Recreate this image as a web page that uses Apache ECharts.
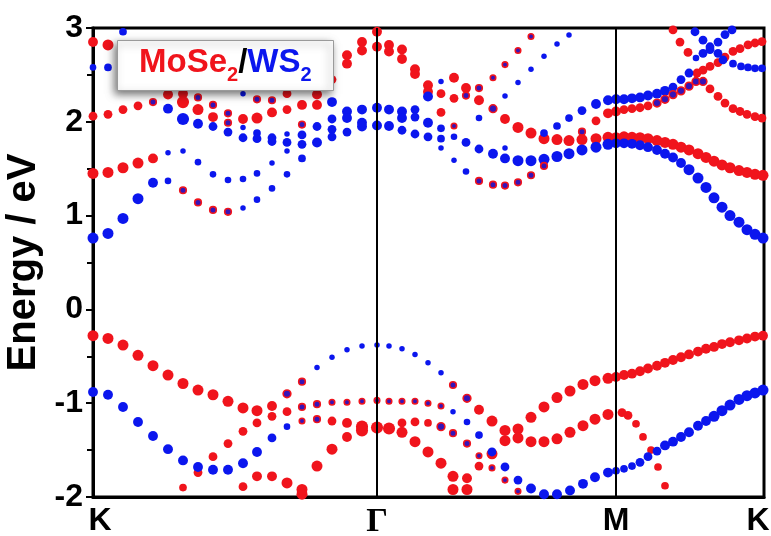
<!DOCTYPE html>
<html>
<head>
<meta charset="utf-8">
<script src="https://cdn.jsdelivr.net/npm/echarts@6.0.0/dist/echarts.min.js"></script>
<style>html,body{margin:0;padding:0;background:#fff}#c{width:771px;height:536px}</style>
</head>
<body>
<div id="c"></div>
<script>
// k-path positions (path length units) and their labels
const tickPositions = [0, 284, 523, 671];
const tickLabels = ['K', 'Γ', 'M', 'K'];
const yTicks = [-2, -1, 0, 1, 2, 3];

// Points: [k, energy (eV), weight (marker size)]
const redValence = [
[0,-0.28,10],[15,-0.31,10],[30,-0.38,10],[45,-0.49,10],[60,-0.60,10],[75,-0.70,10],[90,-0.79,10],[105,-0.86,10],[120,-0.91,10],[135,-0.98,10],[150,-1.05,10],[164,-1.08,10],[179,-1.03,9],
[90,-1.90,7],[105,-1.74,8],[120,-1.57,8],[135,-1.43,8],[150,-1.30,8],[164,-1.21,8],[179,-1.14,8],[194,-1.09,8],
[150,-1.89,8],[164,-1.78,9],[179,-1.78,9],[194,-1.85,10],[209,-1.92,10],[209,-1.97,10],
[224,-1.67,10],[239,-1.49,10],[254,-1.36,9],
[239,-1.19,8],[254,-1.21,9],[269,-1.25,11],[269,-1.29,11],[284,-1.26,11],
[296,-1.27,11],[309,-1.31,10],[322,-1.41,10],[335,-1.52,10],[348,-1.64,10],[360,-1.78,10],[374,-1.92,10],
[360,-1.92,10],[374,-1.80,9],[386,-1.67,8],[399,-1.54,10],
[309,-1.21,8],[322,-1.20,8],[335,-1.21,7],
[386,-1.07,9],[399,-1.19,10],[412,-1.29,10],[425,-1.275,10],[438,-1.15,10],[451,-1.04,10],[464,-0.94,10],[477,-0.87,10],[490,-0.80,10],[502,-0.76,10],[515,-0.735,10],
[412,-1.40,10],[425,-1.37,10],[438,-1.41,10],[451,-1.41,10],[464,-1.38,10],[477,-1.31,10],[490,-1.24,10],[502,-1.17,10],[515,-1.12,10],
[523,-0.72,9],[531,-0.70,9],[539,-0.685,9],[547,-0.66,9],[555,-0.63,9],[564,-0.60,9],[572,-0.57,9],[580,-0.54,9],[588,-0.51,9],[596,-0.48,9],[605,-0.45,9],[613,-0.42,9],[621,-0.40,9],[629,-0.37,9],[637,-0.35,9],[646,-0.33,9],[654,-0.31,9],[662,-0.29,9],[670,-0.28,9],
[529,-1.10,8],[535,-1.13,8],[543,-1.22,7],[550,-1.36,7],[558,-1.50,7],[565,-1.68,7],[572,-1.88,7]
];
const blueValence = [
[0,-0.88,9],[15,-0.91,9],[30,-1.04,9],[45,-1.20,9],[60,-1.35,9],[75,-1.49,9],[90,-1.61,9],[105,-1.68,9],[120,-1.71,9],[135,-1.71,9],[150,-1.64,9],[164,-1.52,9],[179,-1.37,8],[194,-1.25,6],
[224,-0.62,5],[239,-0.51,5],[254,-0.43,5],[269,-0.39,5],[284,-0.38,5],[296,-0.39,5],[309,-0.42,5],[322,-0.48,5],[335,-0.57,5],[348,-0.675,5],
[360,-1.09,5],[374,-1.20,6],[386,-1.34,7],[399,-1.52,8],[412,-1.68,8],[425,-1.82,8],[438,-1.91,9],[451,-1.97,9],[464,-1.97,9],[477,-1.93,9],[490,-1.86,9],[502,-1.79,9],[515,-1.74,9],
[523,-1.72,7],[531,-1.70,7],[539,-1.67,7],[547,-1.63,8],[555,-1.57,8],[564,-1.51,8],[572,-1.45,9],[580,-1.41,9],[588,-1.36,9],[596,-1.31,9],[605,-1.24,9],[613,-1.19,9],[621,-1.14,10],[629,-1.08,10],[637,-1.02,10],[646,-0.96,10],[654,-0.92,10],[662,-0.89,10],[670,-0.86,10]
];
const mixValence = [
[194,-0.90,7],[209,-0.77,6],
[209,-1.04,6],[224,-1.01,6],[239,-0.99,5],[254,-0.99,5],[269,-0.98,5],[284,-0.97,5],[296,-0.98,5],[309,-0.98,5],[322,-0.98,5],[335,-1.00,5],[348,-1.03,5],
[209,-1.19,5],[224,-1.17,6],
[348,-1.25,7],[360,-1.32,6],[374,-1.43,6],[386,-1.56,5],[399,-1.69,5],[412,-1.82,5],[425,-1.94,5],
[360,-0.806,6],[374,-0.948,7]
];
const redConduction = [
[0,2.85,9],[15,2.82,10],
[0,2.06,8],[15,2.08,8],[30,2.13,8],[45,2.17,8],
[0,1.45,10],[15,1.46,10],[30,1.51,10],[45,1.56,10],[60,1.61,9],
[75,2.29,9],[90,2.30,9],[90,2.21,11],[105,2.13,10],[120,2.05,9],[150,2.03,9],[164,2.04,10],[179,2.10,9],[194,2.30,8],[194,2.13,8],[209,2.18,9],[224,2.29,9],[224,2.18,9],[239,2.45,8],[254,2.71,9],[254,2.62,9],[269,2.85,9],[269,2.76,9],[284,2.96,9],[284,2.80,9],
[296,2.82,9],[296,2.75,9],[309,2.77,9],[309,2.67,9],[322,2.56,9],[322,2.51,9],[335,2.39,9],[335,2.32,9],[348,2.30,8],[348,2.10,8],[361,2.47,9],[361,2.25,8],[373,2.36,9],[386,2.23,9],[412,2.03,9],[425,1.94,10],[438,1.88,10],[451,1.82,10],[464,1.81,10],[476,1.80,10],[489,1.81,10],[503,1.82,10],[515,1.835,10],
[503,2.01,8],[515,2.09,9],
[523,1.83,10],[531,1.84,10],[539,1.835,10],[547,1.83,10],[555,1.82,10],[564,1.80,10],[572,1.78,10],[580,1.76,10],[588,1.73,10],[596,1.70,10],[605,1.66,10],[613,1.62,10],[621,1.58,10],[629,1.54,10],[637,1.51,10],[646,1.48,10],[654,1.46,10],[662,1.44,10],[670,1.43,10],
[523,2.11,9],[531,2.13,8],[539,2.14,8],[547,2.15,8],[555,2.17,8],
[617,2.35,8],[625,2.27,8],[632,2.20,8],[640,2.14,8],[647,2.11,8],[654,2.08,8],[662,2.055,8],[669,2.04,8],
[604,2.52,8],[610,2.55,8],[617,2.59,8],[625,2.63,8],[632,2.69,8],[640,2.75,8],[647,2.78,8],[655,2.82,8],[662,2.84,8],[669,2.855,8],
[580,2.98,8],[587,2.85,8],[595,2.74,8]
];
const blueConduction = [
[0,2.58,6],[15,2.58,7],[30,2.96,7],
[0,0.76,10],[15,0.81,10],[30,0.97,10],[45,1.18,10],[60,1.35,9],[75,1.37,6],
[75,2.14,9],[90,2.03,11],[105,1.98,9],[120,1.95,8],[135,1.89,8],[150,1.94,5],[150,1.83,8],[164,1.88,7],[164,1.82,8],[179,1.83,8],[179,1.79,8],[194,1.87,5],[194,1.78,8],[209,1.86,8],[209,1.76,8],[224,1.95,8],[224,1.78,9],[239,2.21,9],[239,2.03,8],[239,1.92,8],[239,1.84,8],[254,2.11,9],[254,2.04,9],[254,1.89,8],[269,2.13,9],[269,1.99,9],[269,1.95,9],[284,2.15,9],[284,1.96,9],
[150,2.30,5],
[75,1.67,5],[90,1.69,5],[105,1.57,6],[120,1.44,6],[135,1.38,6],[150,1.39,6],[164,1.45,6],[179,1.56,5],[194,1.69,5],[209,1.61,7],
[150,1.08,5],[164,1.17,6],[179,1.29,6],[194,1.44,6],
[296,2.13,9],[296,1.955,9],[309,2.11,9],[309,2.04,9],[309,1.91,8],[322,2.13,8],[322,2.05,8],[322,1.87,8],[335,2.27,9],[335,1.99,9],[335,1.84,8],[348,2.43,5],[348,1.93,7],[348,1.82,7],[348,1.72,5],[361,1.84,6],[361,1.59,5],[373,1.78,8],[373,1.47,6],[386,2.04,6],[386,1.71,8],[400,1.66,9],[412,2.275,5],[412,1.72,5],[412,1.61,9],[425,2.42,5],[425,1.585,10],[438,2.56,5],[438,1.585,10],[451,2.70,5],[451,1.88,7],[451,1.60,10],[464,2.83,5],[464,1.955,7],[464,1.63,10],[476,2.925,5],[476,2.04,7],[476,1.66,10],[489,2.12,8],[489,1.70,10],[503,2.19,9],[503,1.73,10],[515,2.23,9],[515,1.76,10],
[523,1.77,9],[531,1.77,9],[539,1.765,9],[547,1.75,9],[555,1.73,9],[564,1.70,9],[572,1.66,9],[580,1.62,9],[588,1.56,9],[596,1.49,10],[605,1.40,10],[613,1.30,10],[621,1.19,10],[629,1.09,10],[637,1.00,10],[646,0.93,10],[654,0.85,10],[662,0.80,10],[670,0.76,10],
[523,2.24,9],[531,2.24,9],[539,2.25,9],[547,2.26,9],[555,2.28,9],[564,2.30,9],[572,2.33,9],[580,2.37,8],[588,2.45,8],[596,2.52,8],[603,2.68,6],[610,2.73,8],[617,2.77,8],[625,2.85,8],[632,2.93,8],[639,2.98,8],
[602,2.96,8],[610,2.87,8],[617,2.80,8],[625,2.73,8],[630,2.66,8],[640,2.62,7],[648,2.59,7],[655,2.58,7],[662,2.57,7],[669,2.57,7]
];
const mixConduction = [
[60,2.21,6],[105,2.26,6],[120,2.18,6],[135,2.09,6],[135,1.99,6],[164,2.24,6],[179,2.23,6],[209,1.97,6],
[90,1.27,6],[105,1.14,6],[120,1.06,6],[135,1.04,6],
[373,2.28,6],[386,2.36,6],[400,2.47,5],[412,2.61,5],[425,2.76,5],[438,2.91,5],[400,2.14,7],
[361,1.955,5],[386,1.37,6],[400,1.33,6],[412,1.32,6],[425,1.355,6],[438,1.43,6],[451,1.53,6],[489,1.895,6],
[564,2.20,7],[572,2.24,7],[580,2.29,7],[588,2.33,7],[596,2.38,7],[603,2.43,7],[610,2.43,7]
];

const RED = '#f0141c', BLUE = '#0b16ee';
const FONT = 'Liberation Sans, Arial, sans-serif';
const labelMap = {};
tickPositions.forEach((p, i) => labelMap[p] = tickLabels[i]);
const lblBase = {color: '#000', fontSize: 32, fontWeight: 'bold', fontFamily: FONT};

const chart = echarts.init(document.getElementById('c'), null, {renderer: 'canvas'});
const sizeFn = d => d[2] * 1.1;
chart.setOption({
  animation: false,
  backgroundColor: '#fff',
  title: {
    text: '{r|MoSe}{rs|2}{k|/}{b|WS}{bs|2}',
    left: 117, top: 35,
    padding: [6, 22, 6, 22],
    backgroundColor: '#fff',
    borderColor: '#9a9a9a', borderWidth: 1,
    shadowBlur: 8, shadowColor: 'rgba(0,0,0,0.55)', shadowOffsetX: -3, shadowOffsetY: 3,
    textStyle: {
      rich: {
        r: {color: RED, fontSize: 33, fontWeight: 'bold', fontFamily: FONT, lineHeight: 44},
        rs: {color: RED, fontSize: 20, fontWeight: 'bold', fontFamily: FONT, lineHeight: 20, verticalAlign: 'bottom'},
        k: {color: '#000', fontSize: 33, fontWeight: 'bold', fontFamily: FONT, lineHeight: 44},
        b: {color: BLUE, fontSize: 33, fontWeight: 'bold', fontFamily: FONT, lineHeight: 44},
        bs: {color: BLUE, fontSize: 20, fontWeight: 'bold', fontFamily: FONT, lineHeight: 20, verticalAlign: 'bottom'}
      }
    }
  },
  grid: {left: 93, right: 7, top: 28, bottom: 39, outerBoundsMode: 'none', containLabel: false,
    show: true, borderColor: '#000', borderWidth: 3, backgroundColor: 'transparent'},
  xAxis: {
    type: 'value', min: 0, max: 671,
    axisLine: {show: true, onZero: false, lineStyle: {color: '#000', width: 3}},
    axisTick: {show: false},
    splitLine: {show: false},
    axisLabel: {
      customValues: tickPositions,
      showMinLabel: true, showMaxLabel: true,
      margin: 8,
      color: '#000', fontSize: 32, fontWeight: 'bold', fontFamily: FONT,
      formatter: v => {
        const t = labelMap[v];
        if (t === 'Γ') return '{g|Γ}';
        if (v === tickPositions[0]) return '{kl|' + t + '}';
        if (v === tickPositions[tickPositions.length - 1]) return '{kr|' + t + '}';
        return t;
      },
      rich: {
        g: {fontFamily: 'Liberation Serif, Times New Roman, serif', fontWeight: 'bold', fontSize: 34, color: '#000'},
        kl: Object.assign({padding: [0, 0, 0, 14]}, lblBase),
        kr: Object.assign({padding: [0, 12, 0, 0]}, lblBase)
      }
    }
  },
  yAxis: {
    type: 'value', min: -2, max: 3, interval: 1,
    name: 'Energy / eV', nameLocation: 'middle', nameGap: 41,
    nameTextStyle: {color: '#000', fontSize: 40, fontWeight: 'bold', fontFamily: FONT},
    axisLine: {show: true, onZero: false, lineStyle: {color: '#000', width: 3}},
    axisTick: {show: true, inside: false, length: 7, lineStyle: {color: '#000', width: 2}},
    minorTick: {show: true, splitNumber: 2, length: 6, lineStyle: {color: '#000', width: 2}},
    splitLine: {show: false},
    axisLabel: {color: '#000', fontSize: 32, fontWeight: 'bold', fontFamily: FONT, margin: 10,
      formatter: v => String(v)}
  },
  series: [
    {type: 'scatter', name: 'MoSe2', data: redValence.concat(redConduction), symbol: 'circle', symbolSize: sizeFn,
     itemStyle: {color: RED, opacity: 1}, z: 2,
     markLine: {silent: true, symbol: ['none', 'none'], label: {show: false},
       lineStyle: {color: '#000', width: 2, type: 'solid'},
       data: [{xAxis: tickPositions[1]}, {xAxis: tickPositions[2]}]}},
    {type: 'scatter', name: 'WS2', data: blueValence.concat(blueConduction), symbol: 'circle', symbolSize: sizeFn,
     itemStyle: {color: BLUE, opacity: 1}, z: 3},
    {type: 'scatter', name: 'mixed', data: mixValence.concat(mixConduction), symbol: 'circle', symbolSize: sizeFn,
     itemStyle: {color: '#3514b8', borderColor: RED, borderWidth: 1.6, opacity: 1}, z: 4}
  ]
});
</script>
</body>
</html>
